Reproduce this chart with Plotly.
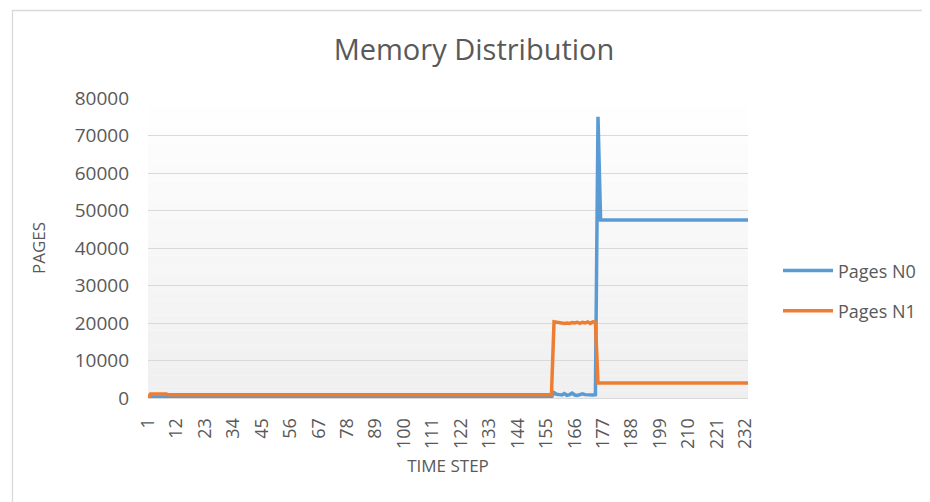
import plotly.graph_objects as go

# ---------------- data ----------------
time_steps = list(range(1, 234))
tick_labels = [1, 12, 23, 34, 45, 56, 67, 78, 89, 100, 111, 122, 133, 144,
               155, 166, 177, 188, 199, 210, 221, 232]

pages_n0 = [
    0, 300, 250, 250, 250, 250, 250, 250, 250, 250,
    250, 250, 250, 250, 250, 250, 250, 250, 250, 250,
    250, 250, 250, 250, 250, 250, 250, 250, 250, 250,
    250, 250, 250, 250, 250, 250, 250, 250, 250, 250,
    250, 250, 250, 250, 250, 250, 250, 250, 250, 250,
    250, 250, 250, 250, 250, 250, 250, 250, 250, 250,
    250, 250, 250, 250, 250, 250, 250, 250, 250, 250,
    250, 250, 250, 250, 250, 250, 250, 250, 250, 250,
    250, 250, 250, 250, 250, 250, 250, 250, 250, 250,
    250, 250, 250, 250, 250, 250, 250, 250, 250, 250,
    250, 250, 250, 250, 250, 250, 250, 250, 250, 250,
    250, 250, 250, 250, 250, 250, 250, 250, 250, 250,
    250, 250, 250, 250, 250, 250, 250, 250, 250, 250,
    250, 250, 250, 250, 250, 250, 250, 250, 250, 250,
    250, 250, 250, 250, 250, 250, 250, 250, 250, 250,
    250, 250, 250, 250, 250, 250, 250, 1400, 1000, 900,
    800, 1200, 700, 900, 1300, 800, 700, 900, 1100, 900,
    800, 700, 800, 900, 75000, 47500, 47500, 47500, 47500, 47500,
    47500, 47500, 47500, 47500, 47500, 47500, 47500, 47500, 47500, 47500,
    47500, 47500, 47500, 47500, 47500, 47500, 47500, 47500, 47500, 47500,
    47500, 47500, 47500, 47500, 47500, 47500, 47500, 47500, 47500, 47500,
    47500, 47500, 47500, 47500, 47500, 47500, 47500, 47500, 47500, 47500,
    47500, 47500, 47500, 47500, 47500, 47500, 47500, 47500, 47500, 47500,
    47500, 47500, 47500,
]

pages_n1 = [
    0, 1100, 1100, 1100, 1100, 1100, 1100, 1100, 850, 850,
    850, 850, 850, 850, 850, 850, 850, 850, 850, 850,
    850, 850, 850, 850, 850, 850, 850, 850, 850, 850,
    850, 850, 850, 850, 850, 850, 850, 850, 850, 850,
    850, 850, 850, 850, 850, 850, 850, 850, 850, 850,
    850, 850, 850, 850, 850, 850, 850, 850, 850, 850,
    850, 850, 850, 850, 850, 850, 850, 850, 850, 850,
    850, 850, 850, 850, 850, 850, 850, 850, 850, 850,
    850, 850, 850, 850, 850, 850, 850, 850, 850, 850,
    850, 850, 850, 850, 850, 850, 850, 850, 850, 850,
    850, 850, 850, 850, 850, 850, 850, 850, 850, 850,
    850, 850, 850, 850, 850, 850, 850, 850, 850, 850,
    850, 850, 850, 850, 850, 850, 850, 850, 850, 850,
    850, 850, 850, 850, 850, 850, 850, 850, 850, 850,
    850, 850, 850, 850, 850, 850, 850, 850, 850, 850,
    850, 850, 850, 850, 850, 850, 850, 20300, 20200, 20000,
    19900, 19900, 20000, 19900, 20100, 20000, 20200, 19900, 20200, 20000,
    20300, 19900, 20300, 20200, 4000, 4000, 4000, 4000, 4000, 4000,
    4000, 4000, 4000, 4000, 4000, 4000, 4000, 4000, 4000, 4000,
    4000, 4000, 4000, 4000, 4000, 4000, 4000, 4000, 4000, 4000,
    4000, 4000, 4000, 4000, 4000, 4000, 4000, 4000, 4000, 4000,
    4000, 4000, 4000, 4000, 4000, 4000, 4000, 4000, 4000, 4000,
    4000, 4000, 4000, 4000, 4000, 4000, 4000, 4000, 4000, 4000,
    4000, 4000, 4000,
]

series_names = ["Pages N0", "Pages N1"]
series_colors = ["#5b9bd5", "#ed7d31"]

# ---------------- layout constants ----------------
# the page body has an 8px margin, so the figure is placed at (8, 8)
OFF = 8
W, H = 930 - OFF, 502 - OFF
ML, MT = 148 - OFF, 98 - OFF
PW, PH = 600, 300
MR, MB = W - ML - PW, H - MT - PH
FONT = "Open Sans"
TXT = "#595959"
GRID = "#d9d9d9"


def px_x(px):
    """reference-screenshot x pixel -> paper coordinate"""
    return (px - OFF - ML) / PW


def px_y(py):
    """reference-screenshot y pixel -> paper coordinate"""
    return (MT + PH - (py - OFF)) / PH


fig = go.Figure()
for name, vals, col in zip(series_names, [pages_n0, pages_n1], series_colors):
    fig.add_trace(go.Scatter(
        x=time_steps, y=vals, name=name, mode="lines",
        line=dict(color=col, width=3.5, shape="linear"),
        showlegend=False,
    ))

shapes = []
# gradient plot background (white at top -> light gray at bottom)
n_strip = 40
for i in range(n_strip):
    t = (i + 0.5) / n_strip  # 0 bottom, 1 top
    c = int(round(239 + (255 - 239) * t))
    shapes.append(dict(type="rect", xref="paper", yref="paper",
                       x0=0, x1=1, y0=i / n_strip, y1=(i + 1) / n_strip,
                       fillcolor=f"rgb({c},{c},{c})", line=dict(width=0),
                       layer="below"))
# chart border
shapes.append(dict(type="rect", xref="paper", yref="paper",
                   x0=px_x(12.5), x1=px_x(980), y0=px_y(560), y1=px_y(10.5),
                   line=dict(color=GRID, width=1.3), fillcolor="rgba(0,0,0,0)",
                   layer="above"))
# custom legend
legend_y = [270.5, 310.7]
annotations = []
for name, col, ly in zip(series_names, series_colors, legend_y):
    shapes.append(dict(type="line", xref="paper", yref="paper",
                       x0=px_x(783), x1=px_x(833), y0=px_y(ly), y1=px_y(ly),
                       line=dict(color=col, width=3.5)))
    annotations.append(dict(text=name, xref="paper", yref="paper",
                            x=px_x(836), y=px_y(ly), xanchor="left",
                            yanchor="middle", showarrow=False,
                            font=dict(family=FONT, size=18, color=TXT)))

fig.update_layout(
    width=W, height=H,
    margin=dict(l=ML, r=MR, t=MT, b=MB, pad=0),
    paper_bgcolor="white", plot_bgcolor="rgba(0,0,0,0)",
    font=dict(family=FONT, color=TXT, size=18),
    title=dict(text="Memory Distribution", x=(474 - OFF) / W, xref="container",
               xanchor="center", y=1 - (50 - OFF) / H, yref="container",
               yanchor="middle", font=dict(family=FONT, size=29, color=TXT)),
    shapes=shapes,
    annotations=annotations,
    xaxis=dict(
        range=[1, 233], tickmode="array", tickvals=tick_labels,
        ticktext=[str(t) for t in tick_labels], tickangle=-90,
        showgrid=False, zeroline=False, showline=True, linecolor=GRID,
        linewidth=1, ticks="", ticklabelstandoff=12,
        tickfont=dict(family=FONT, size=18, color=TXT),
        title=dict(text="TIME STEP", standoff=12,
                   font=dict(family=FONT, size=17, color=TXT)),
    ),
    yaxis=dict(
        range=[0, 80000], tickmode="array",
        tickvals=[0, 10000, 20000, 30000, 40000, 50000, 60000, 70000, 80000],
        ticktext=["0", "10000", "20000", "30000", "40000", "50000", "60000",
                  "70000", "80000"],
        showgrid=True, gridcolor=GRID, gridwidth=1.2, zeroline=False,
        showline=False, ticks="", ticklabelstandoff=18,
        tickfont=dict(family=FONT, size=19, color=TXT),
        title=dict(text="PAGES", standoff=24,
                   font=dict(family=FONT, size=17, color=TXT)),
    ),
)

fig.write_html("out.html")
